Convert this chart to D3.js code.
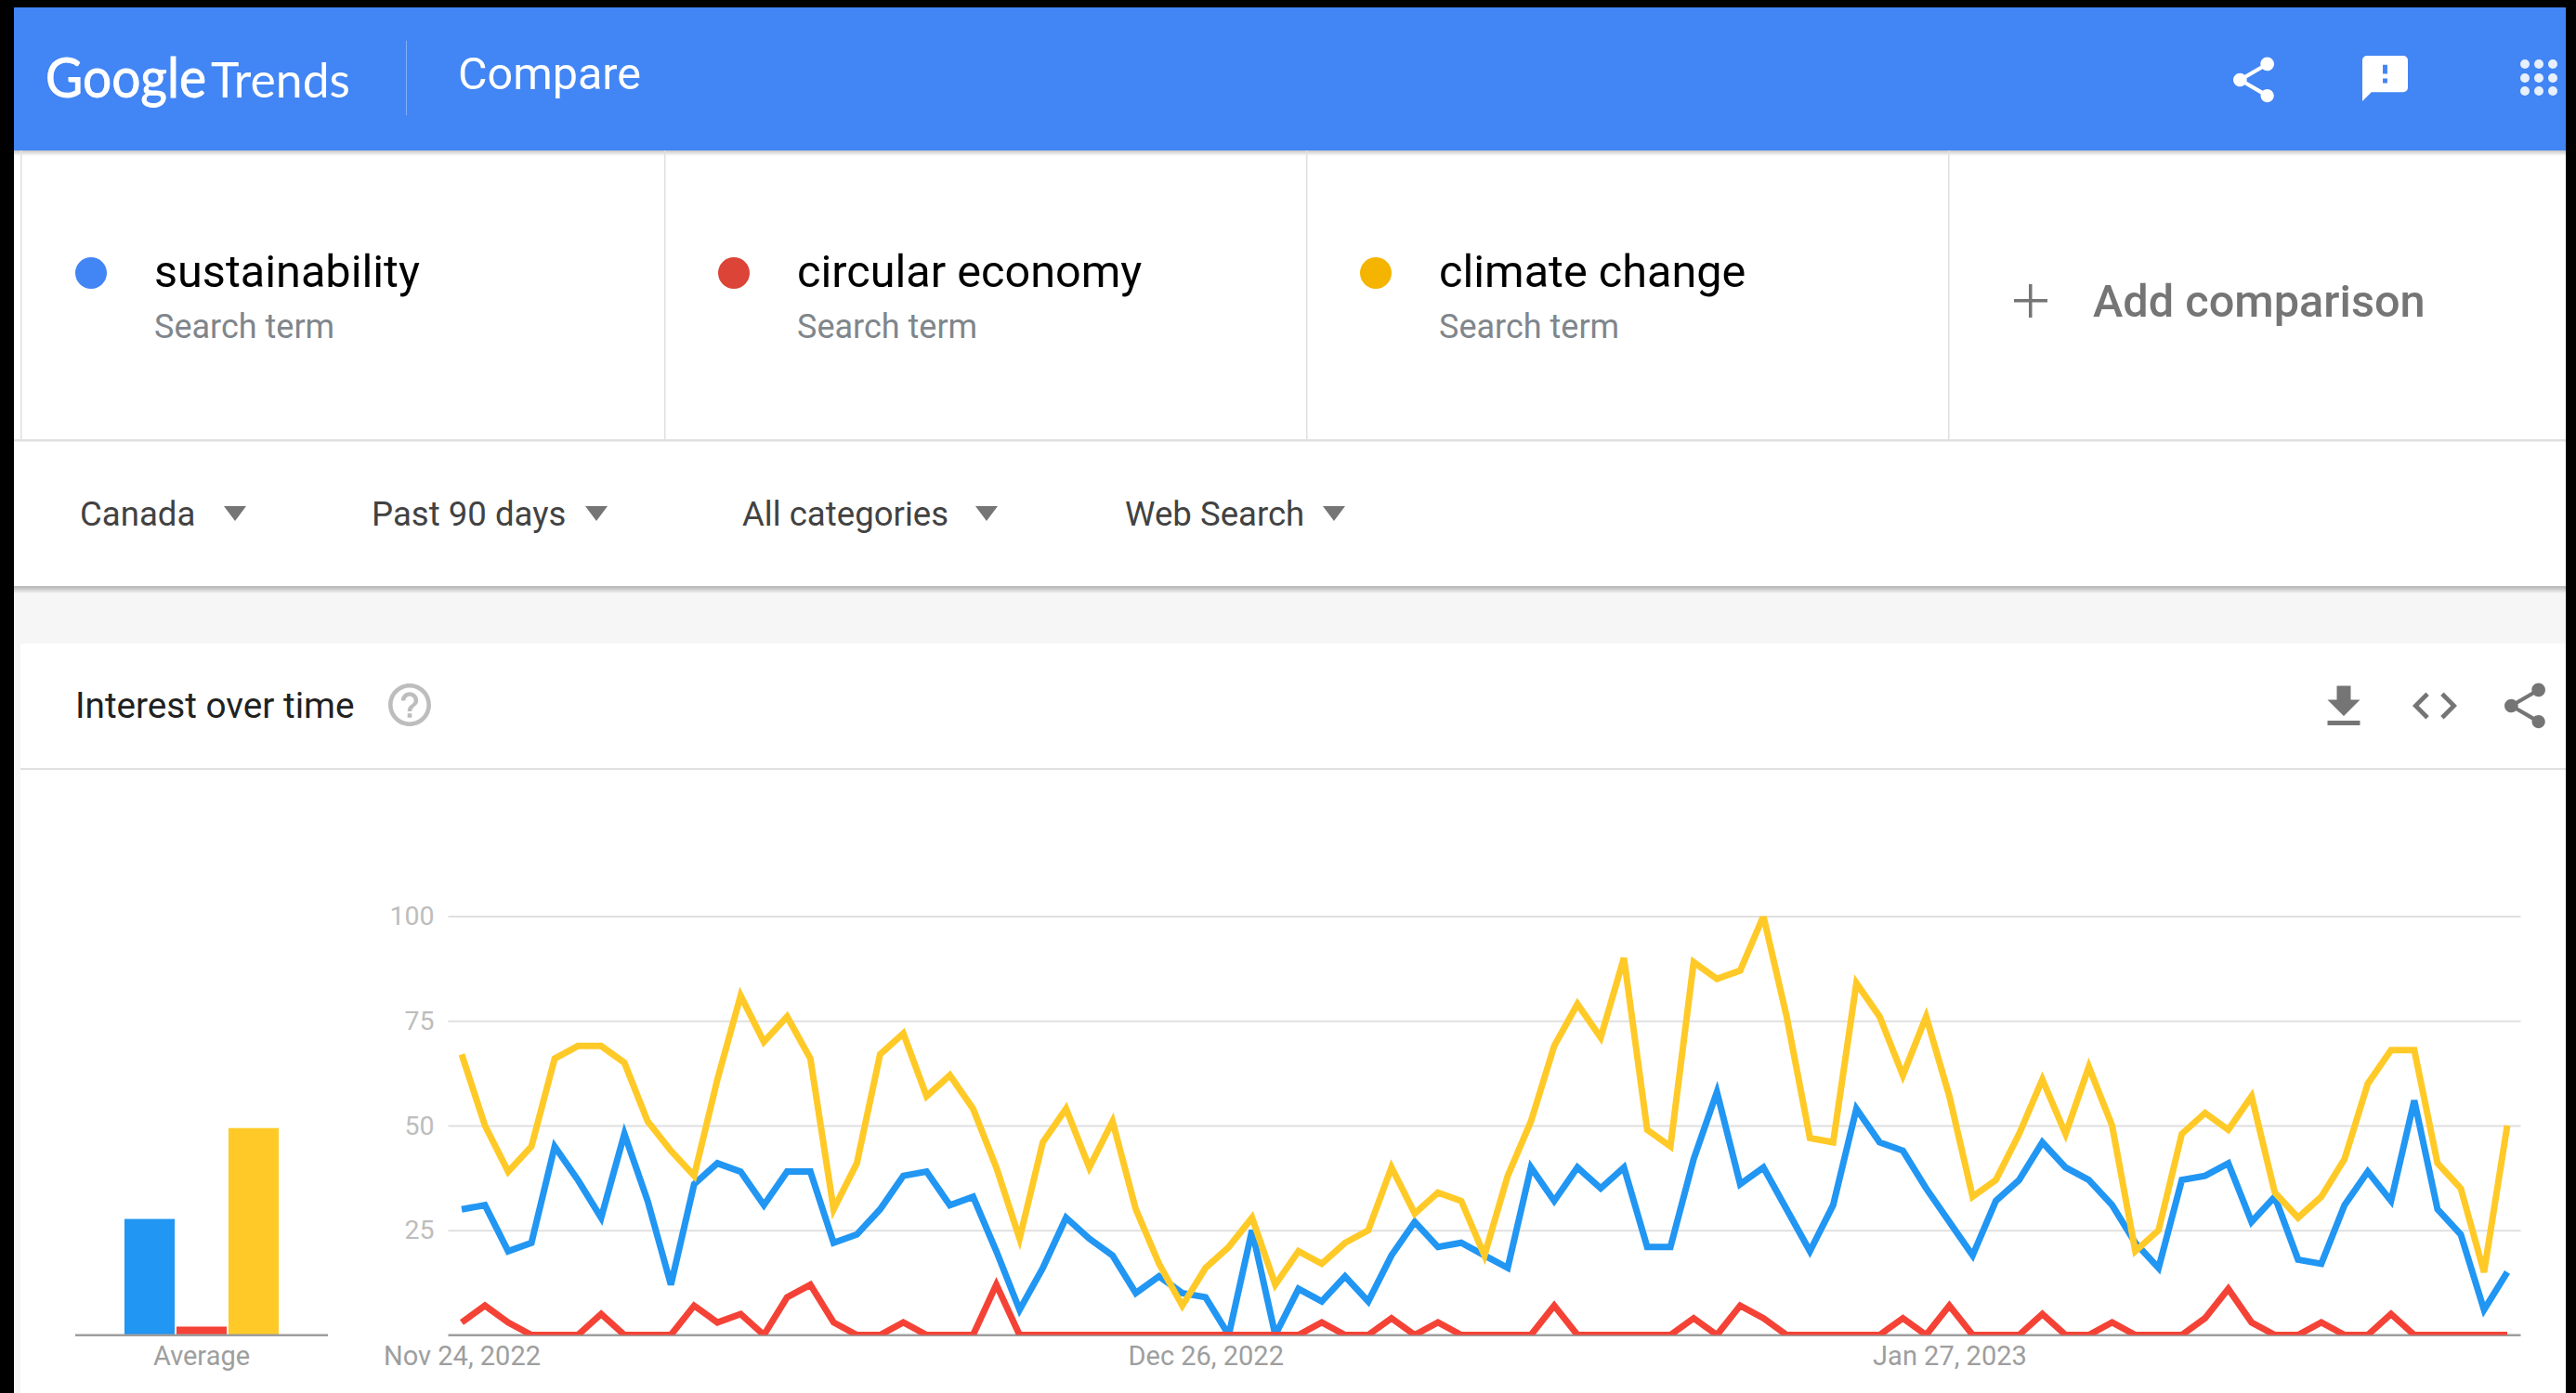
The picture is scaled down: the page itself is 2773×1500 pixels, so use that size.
<!DOCTYPE html>
<html>
<head>
<meta charset="utf-8">
<title>Google Trends - Compare</title>
<script src="https://cdnjs.cloudflare.com/ajax/libs/d3/7.8.5/d3.min.js"></script>
<style>
  html, body { margin: 0; padding: 0; background: #000; overflow: hidden; }
  svg { display: block; font-family: Roboto, sans-serif; }
</style>
</head>
<body>
<div id="chart"></div>
<script>
// Data
const terms = ["sustainability", "circular economy", "climate change"];
const filters = ["Canada", "Past 90 days", "All categories", "Web Search"];
const yTicks = [25, 50, 75, 100];
const dateTickIndex = [0, 32, 64];
const dateTickLabels = ["Nov 24, 2022", "Dec 26, 2022", "Jan 27, 2023"];
const averages = [27.7, 2, 49.4];

const sustainability = [30, 31, 20, 22, 45, 37, 28, 48, 32, 12, 36, 41, 39, 31, 39, 39, 22, 24, 30, 38,
  39, 31, 33, 20, 6, 16, 28, 23, 19, 10, 14, 10, 9, 0, 25, 0, 11, 8, 14, 8,
  19, 27, 21, 22, 19, 16, 40, 32, 40, 35, 40, 21, 21, 42, 58, 36, 40, 30, 20, 31,
  54, 46, 44, 35, 27, 19, 32, 37, 46, 40, 37, 31, 22, 16, 37, 38, 41, 27, 33, 18,
  17, 31, 39, 32, 56, 30, 24, 6, 15];
const circularEconomy = [3, 7, 3, 0, 0, 0, 5, 0, 0, 0, 7, 3, 5, 0, 9, 12, 3, 0, 0, 3,
  0, 0, 0, 12, 0, 0, 0, 0, 0, 0, 0, 0, 0, 0, 0, 0, 0, 3, 0, 0,
  4, 0, 3, 0, 0, 0, 0, 7, 0, 0, 0, 0, 0, 4, 0, 7, 4, 0, 0, 0,
  0, 0, 4, 0, 7, 0, 0, 0, 5, 0, 0, 3, 0, 0, 0, 4, 11, 3, 0, 0,
  3, 0, 0, 5, 0, 0, 0, 0, 0];
const climateChange = [67, 50, 39, 45, 66, 69, 69, 65, 51, 44, 38, 61, 81, 70, 76, 66, 30, 41, 67, 72,
  57, 62, 54, 40, 23, 46, 54, 40, 51, 30, 17, 7, 16, 21, 28, 12, 20, 17, 22, 25,
  40, 29, 34, 32, 19, 38, 51, 69, 79, 71, 90, 49, 45, 89, 85, 87, 100, 76, 47, 46,
  84, 76, 62, 76, 57, 33, 37, 48, 61, 48, 64, 50, 20, 25, 48, 53, 49, 57, 34, 28,
  33, 42, 60, 68, 68, 41, 35, 15, 50];

const series = [sustainability, circularEconomy, climateChange];
const lineColors = ["#2196f3", "#f44336", "#ffca28"];
const dotColors = ["#4285f4", "#db4437", "#f4b400"];

const icons = {
  share: "M18 16.08c-.76 0-1.44.3-1.96.77L8.91 12.7c.05-.23.09-.46.09-.7s-.04-.47-.09-.7l7.05-4.11c.54.5 1.25.81 2.04.81 1.66 0 3-1.34 3-3s-1.34-3-3-3-3 1.34-3 3c0 .24.04.47.09.7L8.04 9.81C7.5 9.31 6.79 9 6 9c-1.66 0-3 1.34-3 3s1.34 3 3 3c.79 0 1.5-.31 2.04-.81l7.12 4.16c-.05.21-.08.43-.08.65 0 1.61 1.31 2.92 2.92 2.92 1.61 0 2.92-1.31 2.92-2.92s-1.31-2.92-2.92-2.92z",
  feedback: "M20 2H4c-1.1 0-1.99.9-1.99 2L2 22l4-4h14c1.1 0 2-.9 2-2V4c0-1.1-.9-2-2-2zm-7 12h-2v-2h2v2zm0-4h-2V6h2v4z",
  download: "M19 9h-4V3H9v6H5l7 7 7-7zM5 18v2h14v-2H5z",
  code: "M9.4 16.6L4.8 12l4.6-4.6L8 6l-6 6 6 6 1.4-1.4zm5.2 0l4.6-4.6-4.6-4.6L16 6l6 6-6 6-1.4-1.4z",
  help: "M11 18h2v-2h-2v2zm1-16C6.48 2 2 6.48 2 12s4.48 10 10 10 10-4.48 10-10S17.52 2 12 2zm0 18c-4.41 0-8-3.59-8-8s3.59-8 8-8 8 3.59 8 8-3.59 8-8 8zm0-14c-2.21 0-4 1.79-4 4h2c0-1.1.9-2 2-2s2 .9 2 2c0 2-3 1.75-3 5h2c0-2.25 3-2.5 3-5 0-2.21-1.79-4-4-4z"
};

const W = 2773, H = 1500;
const pageLeft = 15, pageRight = 2762, pageTop = 8;

const svg = d3.select("#chart").append("svg").attr("width", W).attr("height", H);
const defs = svg.append("defs");

const shadow = defs.append("linearGradient").attr("id", "shadow").attr("x1", 0).attr("x2", 0).attr("y1", 0).attr("y2", 1);
shadow.append("stop").attr("offset", 0).attr("stop-color", "#000").attr("stop-opacity", 0.22);
shadow.append("stop").attr("offset", 1).attr("stop-color", "#000").attr("stop-opacity", 0);

// Page background
svg.append("rect").attr("width", W).attr("height", H).attr("fill", "#000");
svg.append("rect").attr("x", pageLeft).attr("y", pageTop).attr("width", pageRight - pageLeft).attr("height", H - pageTop).attr("fill", "#fff");

function icon(name, cx, cy, scale, color) {
  svg.append("path")
    .attr("d", icons[name])
    .attr("fill", color)
    .attr("transform", `translate(${cx - 12 * scale},${cy - 12 * scale}) scale(${scale})`);
}

function label(text, x, y, size, color, opts = {}) {
  const t = svg.append("text")
    .attr("x", x).attr("y", y)
    .attr("font-size", size)
    .attr("fill", color)
    .attr("font-weight", opts.weight || 400)
    .attr("text-anchor", opts.anchor || "start")
    .attr("font-family", opts.family || null)
    .text(text);
  if (opts.length) t.attr("textLength", opts.length).attr("lengthAdjust", "spacingAndGlyphs");
  return t;
}

// Header bar
svg.append("rect").attr("x", pageLeft).attr("y", pageTop).attr("width", pageRight - pageLeft).attr("height", 154).attr("fill", "#4285f4");
label("Google", 49, 105, 60, "#fff", { family: "Lato", length: 173 }).attr("stroke", "#fff").attr("stroke-width", 0.9);
label("Trends", 227, 105, 52, "#fff", { family: "Lato", length: 150 });
svg.append("rect").attr("x", 437).attr("y", 44).attr("width", 1).attr("height", 80).attr("fill", "#fff").attr("opacity", 0.35);
label("Compare", 493, 96, 48, "#fff", { length: 197 });
icon("share", 2426, 86, 2.44, "#fff");
icon("feedback", 2567.5, 84.5, 2.45, "#fff");
[2718, 2733, 2748].forEach(x => [69, 84, 98].forEach(y => {
  svg.append("circle").attr("cx", x).attr("cy", y).attr("r", 5).attr("fill", "#e8f0fe");
}));
svg.append("rect").attr("x", pageLeft).attr("y", 162).attr("width", pageRight - pageLeft).attr("height", 6).attr("fill", "url(#shadow)");

// Search terms row
const termColumns = [98, 790, 1481];
const dividers = [22, 715, 1406, 2097];
dividers.forEach(x => {
  svg.append("rect").attr("x", x).attr("y", 162).attr("width", 1.5).attr("height", 312).attr("fill", "#e0e0e0");
});
svg.append("rect").attr("x", pageLeft).attr("y", 473).attr("width", pageRight - pageLeft).attr("height", 2.5).attr("fill", "#e0e0e0");
terms.forEach((term, i) => {
  const x = termColumns[i];
  svg.append("circle").attr("cx", x).attr("cy", 294).attr("r", 17).attr("fill", dotColors[i]);
  label(term, x + 68, 309, 48.6, "#000");
  label("Search term", x + 68, 364, 36, "#80868b");
});
svg.append("rect").attr("x", 2168).attr("y", 322).attr("width", 36).attr("height", 3.5).attr("fill", "#757575");
svg.append("rect").attr("x", 2184).attr("y", 306).attr("width", 3.5).attr("height", 36).attr("fill", "#757575");
label("Add comparison", 2253, 341, 48.7, "#757575", { weight: 500 });

// Filter row
const filterX = [86, 400, 799, 1211];
const caretX = [253, 642, 1062, 1436];
filters.forEach((f, i) => {
  label(f, filterX[i], 566, 36.6, "#424242");
  svg.append("path")
    .attr("d", d3.line()([[caretX[i] - 12, 545], [caretX[i] + 12, 545], [caretX[i], 561]]) + "Z")
    .attr("fill", "#757575");
});
svg.append("rect").attr("x", pageLeft).attr("y", 631).attr("width", pageRight - pageLeft).attr("height", 2.5).attr("fill", "#bdbdbd");
svg.append("rect").attr("x", pageLeft).attr("y", 633).attr("width", pageRight - pageLeft).attr("height", 60).attr("fill", "#f6f6f6");
svg.append("rect").attr("x", pageLeft).attr("y", 633).attr("width", pageRight - pageLeft).attr("height", 6).attr("fill", "url(#shadow)");

// Interest over time card
svg.append("rect").attr("x", pageLeft).attr("y", 693).attr("width", 7).attr("height", H - 693).attr("fill", "#f6f6f6");
label("Interest over time", 81, 773, 38.7, "#212121");
icon("help", 441, 759, 2.3, "#bdbdbd");
icon("download", 2523, 761, 2.5, "#757575");
icon("code", 2621, 760, 2.4, "#757575");
icon("share", 2718, 760, 2.44, "#757575");
svg.append("rect").attr("x", 22).attr("y", 827).attr("width", pageRight - 22).attr("height", 2).attr("fill", "#e0e0e0");

// Scales
const y = d3.scaleLinear().domain([0, 100]).range([1437.5, 986.5]);
const x = d3.scaleLinear().domain([0, sustainability.length - 1]).range([497, 2699]);
const plotLeft = 482.5, plotRight = 2713.5;

// Average bars
const barX = d3.scaleBand().domain(terms).range([134, 300]).paddingInner(0.035);
svg.append("g").selectAll("rect").data(terms).join("rect")
  .attr("x", d => barX(d))
  .attr("width", barX.bandwidth())
  .attr("y", (d, i) => y(averages[i]))
  .attr("height", (d, i) => y(0) - y(averages[i]))
  .attr("fill", (d, i) => lineColors[i]);
svg.append("rect").attr("x", 81).attr("y", 1436.5).attr("width", 272).attr("height", 2.5).attr("fill", "#9e9e9e");
label("Average", 217, 1470, 29, "#9e9e9e", { anchor: "middle" });

// Y axis and grid
const yAxis = svg.append("g")
  .attr("transform", `translate(${plotLeft},0)`)
  .call(d3.axisLeft(y).tickValues(yTicks).tickSize(-(plotRight - plotLeft)).tickPadding(15));
yAxis.select(".domain").remove();
yAxis.selectAll(".tick line").attr("stroke", "#e0e0e0").attr("stroke-width", 2);
yAxis.selectAll(".tick text").attr("fill", "#bdbdbd").attr("font-size", 28.5).attr("font-family", "Roboto");

// Date axis
const xAxis = svg.append("g")
  .attr("transform", `translate(0,${y(0)})`)
  .call(d3.axisBottom(x).tickValues(dateTickIndex).tickSize(0).tickPadding(12)
    .tickFormat((d, i) => dateTickLabels[i]));
xAxis.select(".domain").remove();
xAxis.selectAll(".tick text").attr("fill", "#9e9e9e").attr("font-size", 29).attr("font-family", "Roboto");
svg.append("rect").attr("x", plotLeft).attr("y", 1436.5).attr("width", plotRight - plotLeft).attr("height", 2.5).attr("fill", "#9e9e9e");

// Lines, clipped to the plot area like the original
defs.append("clipPath").attr("id", "plot-clip").append("rect")
  .attr("x", plotLeft).attr("y", y(100))
  .attr("width", plotRight - plotLeft).attr("height", y(0) - y(100));

const line = d3.line().x((d, i) => x(i)).y(d => y(d));
svg.append("g").attr("clip-path", "url(#plot-clip)")
  .selectAll("path").data(series).join("path")
  .attr("d", line)
  .attr("fill", "none")
  .attr("stroke", (d, i) => lineColors[i])
  .attr("stroke-width", 7)
  .attr("stroke-linejoin", "miter");
</script>
</body>
</html>
